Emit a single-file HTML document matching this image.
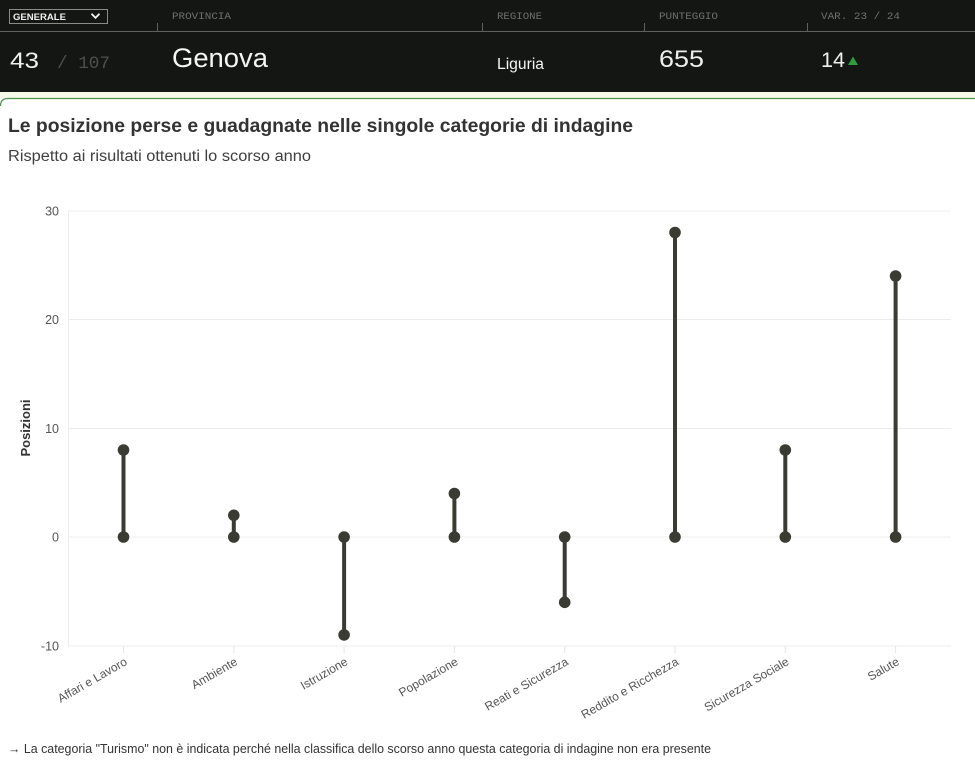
<!DOCTYPE html>
<html><head><meta charset="utf-8">
<style>
html,body{margin:0;padding:0;background:#fff;}
body{width:975px;height:762px;overflow:hidden;}
svg{display:block;}
</style></head>
<body>
<svg width="975" height="762" viewBox="0 0 975 762" xmlns="http://www.w3.org/2000/svg">
  <!-- header -->
  <rect x="0" y="0" width="975" height="92" fill="#131613"/>
  <rect x="0" y="92" width="975" height="6" fill="#f6f9e7"/>
  <path d="M0.5,106 Q0.5,98.5 8,98.5 L975,98.5" fill="none" stroke="#4f8f4f" stroke-width="1.2"/>

  <!-- dropdown -->
  <rect x="9.5" y="9.5" width="98" height="14" fill="none" stroke="#8a8c88" stroke-width="1"/>
  <text x="13" y="20" font-family="Liberation Sans, sans-serif" font-weight="bold" font-size="9.6" fill="#f2f2f2" textLength="53" lengthAdjust="spacingAndGlyphs">GENERALE</text>
  <polyline points="91.5,13.8 95.5,17.8 99.5,13.8" fill="none" stroke="#f2f2f2" stroke-width="1.8"/>

  <!-- column labels -->
  <g font-family="Liberation Mono, monospace" font-size="10.5" fill="#6f716d">
    <text x="172" y="19" textLength="59" lengthAdjust="spacingAndGlyphs">PROVINCIA</text>
    <text x="497" y="19" textLength="45" lengthAdjust="spacingAndGlyphs">REGIONE</text>
    <text x="659" y="19" textLength="59" lengthAdjust="spacingAndGlyphs">PUNTEGGIO</text>
    <text x="821" y="19" textLength="79" lengthAdjust="spacingAndGlyphs">VAR. 23 / 24</text>
  </g>
  <line x1="0" y1="31.5" x2="975" y2="31.5" stroke="#5e615c" stroke-width="1"/>
  <g stroke="#5e615c" stroke-width="1">
    <line x1="157.5" y1="23" x2="157.5" y2="31"/>
    <line x1="482.5" y1="23" x2="482.5" y2="31"/>
    <line x1="644.5" y1="23" x2="644.5" y2="31"/>
    <line x1="807.5" y1="23" x2="807.5" y2="31"/>
  </g>

  <!-- row values -->
  <text x="10" y="68" font-family="Liberation Sans, sans-serif" font-size="22" fill="#f0f0f0" textLength="29" lengthAdjust="spacingAndGlyphs">43</text>
  <text x="57" y="68" font-family="Liberation Mono, monospace" font-size="17.5" fill="#4d504b" textLength="53" lengthAdjust="spacingAndGlyphs">/ 107</text>
  <text x="172" y="67" font-family="Liberation Sans, sans-serif" font-size="26.5" fill="#f5f5f5" textLength="96" lengthAdjust="spacingAndGlyphs">Genova</text>
  <text x="497" y="69" font-family="Liberation Sans, sans-serif" font-size="15.5" fill="#f5f5f5" textLength="47" lengthAdjust="spacingAndGlyphs">Liguria</text>
  <text x="659" y="67" font-family="Liberation Sans, sans-serif" font-size="24" fill="#ededed" textLength="45" lengthAdjust="spacingAndGlyphs">655</text>
  <text x="821" y="67" font-family="Liberation Sans, sans-serif" font-size="21" fill="#f0f0f0" textLength="24" lengthAdjust="spacingAndGlyphs">14</text>
  <polygon points="848,65 858,65 853,56.5" fill="#2f9d3c"/>

  <!-- titles -->
  <text x="8" y="132" font-family="Liberation Sans, sans-serif" font-weight="bold" font-size="19" fill="#333333" textLength="625" lengthAdjust="spacingAndGlyphs">Le posizione perse e guadagnate nelle singole categorie di indagine</text>
  <text x="8" y="161" font-family="Liberation Sans, sans-serif" font-size="15.5" fill="#3f3f3f" textLength="303" lengthAdjust="spacingAndGlyphs">Rispetto ai risultati ottenuti lo scorso anno</text>

  <!-- grid -->
  <g stroke="#ececec" stroke-width="1">
    <line x1="68" y1="211" x2="951" y2="211"/>
    <line x1="68" y1="319.5" x2="951" y2="319.5"/>
    <line x1="68" y1="428.5" x2="951" y2="428.5"/>
    <line x1="68" y1="537" x2="951" y2="537"/>
    <line x1="68" y1="646" x2="951" y2="646"/>
    <line x1="68.5" y1="211" x2="68.5" y2="646"/>
  </g>
  <!-- x ticks -->
  <g stroke="#e6e6e6" stroke-width="1">
    <line x1="123.5" y1="646" x2="123.5" y2="653"/>
    <line x1="233.8" y1="646" x2="233.8" y2="653"/>
    <line x1="344.1" y1="646" x2="344.1" y2="653"/>
    <line x1="454.4" y1="646" x2="454.4" y2="653"/>
    <line x1="564.7" y1="646" x2="564.7" y2="653"/>
    <line x1="675" y1="646" x2="675" y2="653"/>
    <line x1="785.3" y1="646" x2="785.3" y2="653"/>
    <line x1="895.6" y1="646" x2="895.6" y2="653"/>
  </g>

  <!-- y tick labels -->
  <g font-family="Liberation Sans, sans-serif" font-size="12.5" fill="#555" text-anchor="end">
    <text x="59" y="215.5">30</text>
    <text x="59" y="324">20</text>
    <text x="59" y="433">10</text>
    <text x="59" y="541.5">0</text>
    <text x="59" y="650.5">-10</text>
  </g>
  <text transform="translate(30,428) rotate(-90)" text-anchor="middle" font-family="Liberation Sans, sans-serif" font-weight="bold" font-size="13" fill="#333">Posizioni</text>

  <!-- stems -->
  <g stroke="#3a3c33" stroke-width="4">
    <line x1="123.5" y1="537" x2="123.5" y2="450"/>
    <line x1="233.8" y1="537" x2="233.8" y2="515.3"/>
    <line x1="344.1" y1="537" x2="344.1" y2="634.9"/>
    <line x1="454.4" y1="537" x2="454.4" y2="493.5"/>
    <line x1="564.7" y1="537" x2="564.7" y2="602.3"/>
    <line x1="675" y1="537" x2="675" y2="232.5"/>
    <line x1="785.3" y1="537" x2="785.3" y2="450"/>
    <line x1="895.6" y1="537" x2="895.6" y2="276"/>
  </g>
  <g fill="#3a3c33">
    <circle cx="123.5" cy="537" r="5.8"/><circle cx="123.5" cy="450" r="5.8"/>
    <circle cx="233.8" cy="537" r="5.8"/><circle cx="233.8" cy="515.3" r="5.8"/>
    <circle cx="344.1" cy="537" r="5.8"/><circle cx="344.1" cy="634.9" r="5.8"/>
    <circle cx="454.4" cy="537" r="5.8"/><circle cx="454.4" cy="493.5" r="5.8"/>
    <circle cx="564.7" cy="537" r="5.8"/><circle cx="564.7" cy="602.3" r="5.8"/>
    <circle cx="675" cy="537" r="5.8"/><circle cx="675" cy="232.5" r="5.8"/>
    <circle cx="785.3" cy="537" r="5.8"/><circle cx="785.3" cy="450" r="5.8"/>
    <circle cx="895.6" cy="537" r="5.8"/><circle cx="895.6" cy="276" r="5.8"/>
  </g>

  <!-- x labels -->
  <g font-family="Liberation Sans, sans-serif" font-size="12" fill="#555" text-anchor="end">
    <text transform="translate(128,664) rotate(-30)">Affari e Lavoro</text>
    <text transform="translate(238.3,664) rotate(-30)">Ambiente</text>
    <text transform="translate(348.6,664) rotate(-30)">Istruzione</text>
    <text transform="translate(458.9,664) rotate(-30)">Popolazione</text>
    <text transform="translate(569.2,664) rotate(-30)">Reati e Sicurezza</text>
    <text transform="translate(679.5,664) rotate(-30)">Reddito e Ricchezza</text>
    <text transform="translate(789.8,664) rotate(-30)">Sicurezza Sociale</text>
    <text transform="translate(900.1,664) rotate(-30)">Salute</text>
  </g>

  <!-- footnote -->
  <text x="8" y="753" font-family="Liberation Sans, sans-serif" font-size="12.5" fill="#333" textLength="703" lengthAdjust="spacingAndGlyphs">→ La categoria "Turismo" non è indicata perché nella classifica dello scorso anno questa categoria di indagine non era presente</text>
</svg>
</body></html>
